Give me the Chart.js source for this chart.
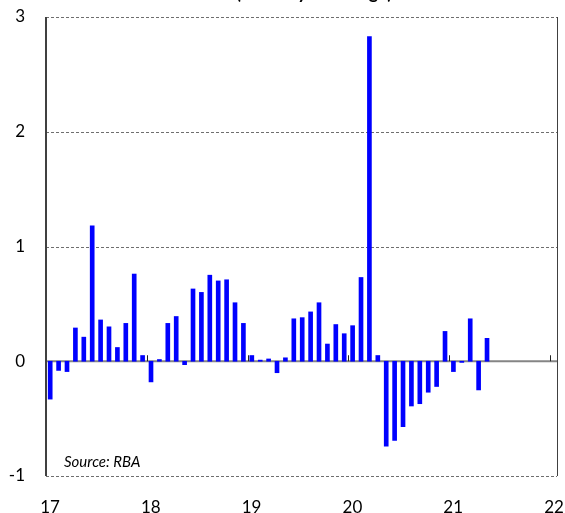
<!DOCTYPE html>
<html>
<head>
<meta charset="utf-8">
<script src="https://cdn.jsdelivr.net/npm/chart.js@4.4.1/dist/chart.umd.min.js"></script>
<style>
    html, body { margin: 0; padding: 0; background: #fff; }
    #wrap { width: 565px; height: 513px; position: relative; }
</style>
</head>
<body>
<div id="wrap"><canvas id="cpiChart"></canvas></div>
<script>
// Monthly % change, Jan 2017 .. May 2021
const months = [
    "Jan-17","Feb-17","Mar-17","Apr-17","May-17","Jun-17","Jul-17","Aug-17","Sep-17","Oct-17","Nov-17","Dec-17",
    "Jan-18","Feb-18","Mar-18","Apr-18","May-18","Jun-18","Jul-18","Aug-18","Sep-18","Oct-18","Nov-18","Dec-18",
    "Jan-19","Feb-19","Mar-19","Apr-19","May-19","Jun-19","Jul-19","Aug-19","Sep-19","Oct-19","Nov-19","Dec-19",
    "Jan-20","Feb-20","Mar-20","Apr-20","May-20","Jun-20","Jul-20","Aug-20","Sep-20","Oct-20","Nov-20","Dec-20",
    "Jan-21","Feb-21","Mar-21","Apr-21","May-21"
];
const changes = [
    -0.33, -0.08, -0.09, 0.29, 0.21, 1.18, 0.36, 0.30, 0.12, 0.33, 0.76, 0.05,
    -0.18, 0.015, 0.33, 0.39, -0.03, 0.63, 0.60, 0.75, 0.70, 0.71, 0.51, 0.33,
    0.05, 0.01, 0.02, -0.10, 0.03, 0.37, 0.38, 0.43, 0.51, 0.15, 0.32, 0.24,
    0.31, 0.73, 2.83, 0.05, -0.74, -0.69, -0.57, -0.39, -0.37, -0.27, -0.22, 0.26,
    -0.09, -0.01, 0.37, -0.25, 0.20
];
const yearLabels = ["17", "18", "19", "20", "21", "22"];
const yTicks = [-1, 0, 1, 2, 3];

const FONT = "Lato, 'Open Sans', sans-serif";

// frame, gridlines, title and source note
const framePlugin = {
    id: "frame",
    beforeDatasetsDraw(chart) {
        const { ctx, chartArea: a, scales } = chart;
        const y = scales.y, x = scales.x;
        ctx.save();
        // dashed gridlines (incl. top & bottom edges)
        ctx.strokeStyle = "#6e6e6e";
        ctx.lineWidth = 1;
        ctx.setLineDash([3, 2]);
        yTicks.forEach(v => {
            if (v === 0) return;
            const py = Math.round(y.getPixelForValue(v)) + 0.5;
            ctx.beginPath();
            ctx.moveTo(a.left, py);
            ctx.lineTo(a.right, py);
            ctx.stroke();
        });
        ctx.setLineDash([]);
        // zero line
        const zy = y.getPixelForValue(0);
        ctx.strokeStyle = "#858585";
        ctx.lineWidth = 2;
        ctx.beginPath();
        ctx.moveTo(a.left, zy);
        ctx.lineTo(a.right, zy);
        ctx.stroke();
        // small year ticks on the zero line
        ctx.strokeStyle = "#222";
        ctx.lineWidth = 1;
        yearLabels.forEach((_, i) => {
            const px = Math.round(x.getPixelForValue(i * 12)) + 0.5;
            ctx.beginPath();
            ctx.moveTo(px, zy - 6);
            ctx.lineTo(px, zy);
            ctx.stroke();
        });
        // left and right frame
        ctx.strokeStyle = "#404040";
        ctx.lineWidth = 2;
        ctx.beginPath();
        ctx.moveTo(a.left, a.top);
        ctx.lineTo(a.left, a.bottom);
        ctx.stroke();
        ctx.lineWidth = 1;
        ctx.beginPath();
        ctx.moveTo(Math.round(a.right) + 0.5, a.top);
        ctx.lineTo(Math.round(a.right) + 0.5, a.bottom);
        ctx.stroke();
        ctx.restore();
    },
    afterDraw(chart) {
        const { ctx, chartArea: a } = chart;
        ctx.save();
        ctx.fillStyle = "#000";
        ctx.font = "bold 18px " + FONT;
        ctx.textAlign = "center";
        ctx.textBaseline = "alphabetic";
        ctx.fillText("(monthly % change)", 314, -1.5);
        ctx.font = "italic 15px " + FONT;
        ctx.textAlign = "left";
        ctx.textBaseline = "middle";
        ctx.fillText("Source: RBA", a.left + 18, 462);
        ctx.restore();
    }
};

const ctx = document.getElementById("cpiChart");
new Chart(ctx, {
    type: "bar",
    data: {
        labels: months,
        datasets: [{
            label: "CPI",
            data: changes.map((v, i) => ({ x: i + 0.5, y: v })),
            backgroundColor: "#0000ff",
            borderWidth: 0,
            barThickness: 4
        }]
    },
    options: {
        responsive: true,
        maintainAspectRatio: false,
        animation: false,
        layout: { padding: { top: 17, right: 8, left: 0, bottom: 0 } },
        scales: {
            x: {
                type: "linear",
                offset: false,
                min: 0,
                max: 60.83,
                afterBuildTicks: s => { s.ticks = yearLabels.map((_, i) => ({ value: i * 12 })); },
                afterFit: s => { s.height = 37; s.paddingLeft = 0; s.paddingRight = 0; },
                grid: { display: false, drawTicks: false, offset: false },
                border: { display: false },
                ticks: {
                    autoSkip: false,
                    maxRotation: 0,
                    padding: 21,
                    labelOffset: 4,
                    color: "#000",
                    font: { family: FONT, size: 17 },
                    callback: v => yearLabels[Math.round(v / 12)]
                }
            },
            y: {
                min: -1,
                max: 3,
                afterBuildTicks: s => { s.ticks = yTicks.map(v => ({ value: v })); },
                afterFit: s => { s.width = 46; s.paddingTop = 0; s.paddingBottom = 0; },
                grid: { display: false, drawTicks: false },
                border: { display: false },
                ticks: {
                    padding: 21,
                    color: "#000",
                    font: { family: FONT, size: 17 }
                }
            }
        },
        plugins: {
            legend: { display: false },
            tooltip: { enabled: false }
        }
    },
    plugins: [framePlugin]
});
</script>
</body>
</html>
